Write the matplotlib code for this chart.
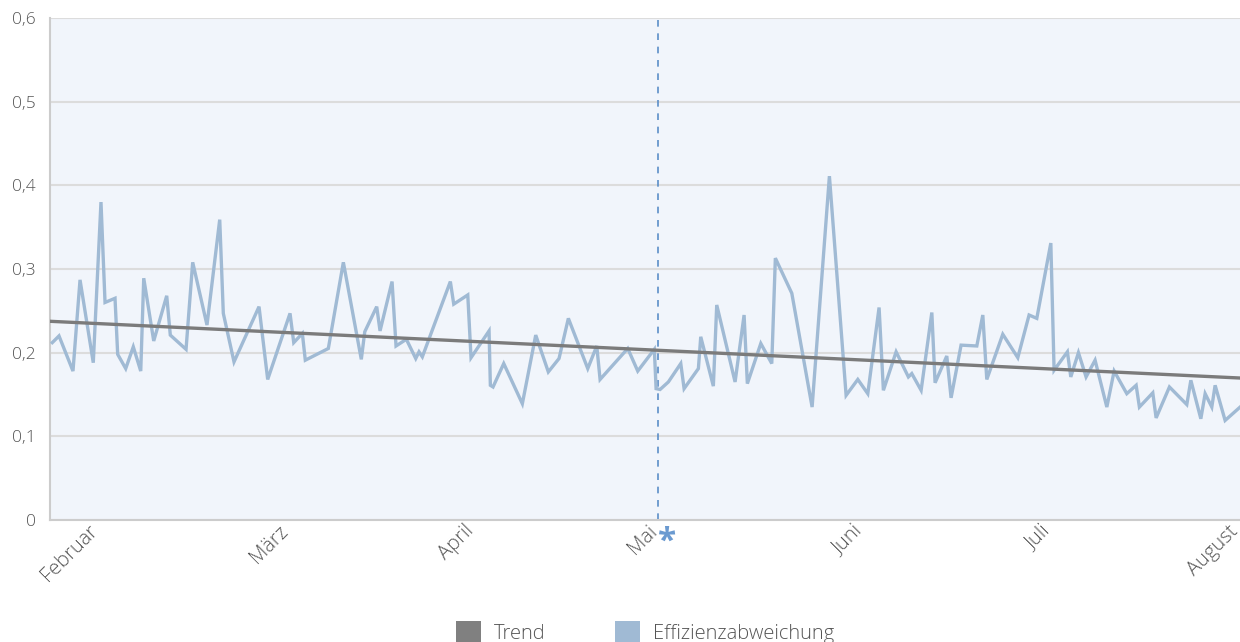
import matplotlib
matplotlib.use("Agg")
import matplotlib.pyplot as plt
from matplotlib.patches import Patch
from matplotlib.transforms import ScaledTranslation

plt.rcParams['font.family'] = ['Open Sans', 'DejaVu Sans']

# x positions in days (axis runs from 0 to ~182)
tage = [0.35, 1.38, 3.52, 4.60, 6.63, 7.81, 8.43, 9.96, 10.37, 11.60, 12.76, 13.90,
        14.36, 15.89, 17.88, 18.43, 20.84, 21.86, 24.05, 26.00, 26.55, 28.19, 32.02,
        33.35, 36.77, 37.34, 38.66, 39.11, 42.64, 44.94, 47.69, 48.22, 50.05, 50.56,
        52.40, 53.01, 54.59, 56.03, 56.53, 57.04, 61.33, 61.85, 64.00, 64.50, 67.26,
        67.46, 67.87, 69.51, 72.36, 74.41, 76.34, 77.98, 79.41, 82.38, 83.76, 84.27,
        88.51, 90.04, 92.58, 92.85, 93.46, 94.73, 96.63, 97.14, 99.33, 99.69, 101.62,
        102.14, 104.95, 106.33, 106.83, 108.89, 110.57, 111.12, 113.64, 116.75, 119.40,
        121.96, 123.75, 125.28, 127.01, 127.67, 129.62, 131.50, 132.02, 133.45, 135.09,
        135.59, 137.38, 138.04, 139.57, 141.98, 142.90, 143.51, 145.96, 148.26, 149.99,
        151.17, 153.32, 153.82, 155.86, 156.38, 157.55, 158.72, 160.10, 161.90, 163.02,
        164.96, 166.39, 166.89, 168.94, 169.45, 171.49, 174.15, 174.77, 176.30, 176.96,
        177.98, 178.49, 180.02, 182.32]

effizienzabweichung = [0.212, 0.220, 0.178, 0.287, 0.188, 0.380, 0.260, 0.265, 0.198, 0.181,
                       0.207, 0.178, 0.289, 0.214, 0.268, 0.221, 0.204, 0.308, 0.233, 0.359,
                       0.247, 0.189, 0.255, 0.168, 0.247, 0.212, 0.223, 0.191, 0.205, 0.308,
                       0.192, 0.225, 0.255, 0.226, 0.285, 0.208, 0.216, 0.193, 0.201, 0.195,
                       0.285, 0.258, 0.269, 0.194, 0.226, 0.161, 0.159, 0.187, 0.139, 0.221,
                       0.177, 0.193, 0.241, 0.181, 0.208, 0.168, 0.205, 0.178, 0.204, 0.157,
                       0.156, 0.165, 0.187, 0.157, 0.181, 0.219, 0.160, 0.257, 0.165, 0.245,
                       0.163, 0.211, 0.187, 0.313, 0.271, 0.135, 0.411, 0.149, 0.168, 0.151,
                       0.254, 0.155, 0.201, 0.171, 0.175, 0.155, 0.248, 0.164, 0.196, 0.146,
                       0.209, 0.208, 0.245, 0.168, 0.222, 0.194, 0.245, 0.241, 0.331, 0.179,
                       0.201, 0.171, 0.200, 0.171, 0.191, 0.135, 0.178, 0.151, 0.161, 0.135,
                       0.152, 0.122, 0.159, 0.138, 0.167, 0.121, 0.151, 0.135, 0.161, 0.119,
                       0.135]

trend_x = [0.0, 182.3]
trend_y = [0.2375, 0.1697]

monate = ["Februar", "März", "April", "Mai", "Juni", "Juli", "August"]
monat_pos = [7.5, 36.6, 65.1, 93.15, 124.6, 153.4, 182.2]
marker_pos = 93.15

y_ticks = [0, 0.1, 0.2, 0.3, 0.4, 0.5, 0.6]
y_labels = ["0", "0,1", "0,2", "0,3", "0,4", "0,5", "0,6"]

blue = "#a0bad4"
gray = "#7b7b7b"
txt = "#555555"

fig = plt.figure(figsize=(12.4, 6.42), dpi=100)
ax = fig.add_axes([50/1240, 122/642, 1190/1240, 502/642])
ax.set_facecolor("#f1f5fb")

ax.set_xlim(0, 182.3)
ax.set_ylim(0, 0.6)

ax.yaxis.grid(True, color="#dcdcdc", linewidth=1.5, zorder=0)
ax.set_axisbelow(True)

ax.plot(tage, effizienzabweichung, color=blue, linewidth=2.4, zorder=3,
        solid_joinstyle="miter")
ax.plot(trend_x, trend_y, color=gray, linewidth=2.4, zorder=4)
ax.axvline(marker_pos, color="#5b8ec8", linewidth=1.2, linestyle=(0, (4, 4)), zorder=2)

for s in ["top", "right"]:
    ax.spines[s].set_visible(False)
ax.spines["left"].set_color("#cccccc")
ax.spines["bottom"].set_color("#cccccc")
ax.spines["left"].set_linewidth(1.5)
ax.spines["bottom"].set_linewidth(1.5)

ax.set_yticks(y_ticks)
ax.set_yticklabels(y_labels, fontsize=12.5, color=txt, fontweight="light")
ax.set_xticks(monat_pos)
ax.set_xticklabels(monate, fontsize=14.5, color=txt, rotation=45, ha="right",
                   va="center", rotation_mode="anchor", fontweight="light")
ax.tick_params(axis="both", length=0)
ax.tick_params(axis="y", pad=10)
ax.tick_params(axis="x", pad=6)
off = ScaledTranslation(-4/100, 0, fig.dpi_scale_trans)
for lab in ax.get_xticklabels():
    lab.set_transform(lab.get_transform() + off)

ax.annotate("*", xy=(marker_pos, 0), xycoords="data", xytext=(9, -22),
            textcoords="offset pixels", ha="center", va="center",
            fontsize=24, fontweight="bold", color="#6b9ad0")

handles = [Patch(facecolor="#808080", edgecolor="none", label="Trend"),
           Patch(facecolor=blue, edgecolor="none", label="Effizienzabweichung")]
leg = ax.legend(handles=handles, loc="center", bbox_to_anchor=(0.5, -0.224),
                ncol=2, frameon=False, fontsize=14.5, handlelength=1.25,
                handleheight=1.25, handletextpad=0.62, columnspacing=3.45)
for t in leg.get_texts():
    t.set_color(txt)
    t.set_fontweight("light")

fig.savefig("out.png", dpi=100)
